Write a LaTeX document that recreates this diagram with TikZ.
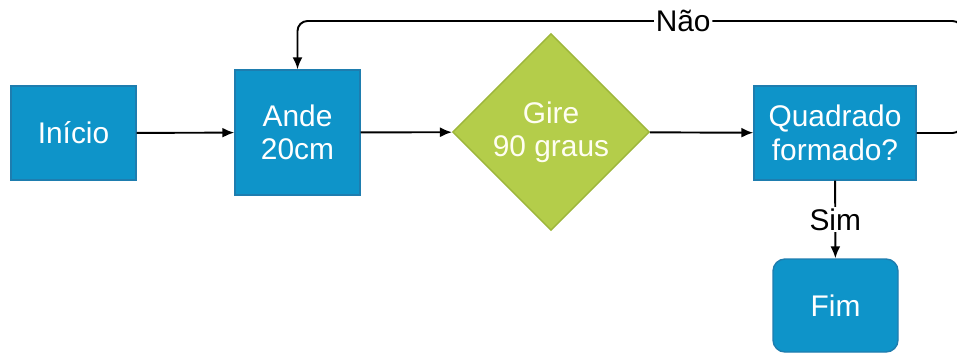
\documentclass[tikz,border=0pt]{standalone}
\usepackage{fontspec}
\setmainfont{Liberation Sans}
\usepackage{tikz}
\usetikzlibrary{positioning}
\usetikzlibrary{shapes.geometric}
\usetikzlibrary{arrows.meta}

\definecolor{boxblue}{RGB}{14,148,201}
\definecolor{boxblueline}{RGB}{30,125,175}
\definecolor{boxgreen}{RGB}{180,205,74}
\definecolor{boxgreenline}{RGB}{157,182,58}

\begin{document}
\begin{tikzpicture}
    [
    font=\fontsize{17}{19}\selectfont,
    box/.style={rectangle,draw=boxblueline,fill=boxblue,text=white,line width=0.8pt,
      align=center,inner sep=0pt,minimum width=2.5cm,minimum height=1.88cm},
    turn/.style={diamond,draw=boxgreenline,fill=boxgreen,text=white!95!yellow,line width=0.8pt,
      align=center,inner sep=0pt,minimum width=3.94cm,minimum height=3.94cm},
    flow/.style={line width=1.1pt,-{Latex[length=2.4mm,width=2mm]}},
    ]
    \useasboundingbox (0,0) rectangle (19.14,-7.06);
    \node (inicio) at (1.47,-2.66) [box] {Início};
    \node (ande) at (5.95,-2.65) [box,minimum height=2.5cm] {Ande\\20cm};
    \node (gire) at (11.02,-2.64) [turn] {Gire\\90 graus};
    \node (quad) at (16.70,-2.66) [box,minimum width=3.24cm] {Quadrado\\formado?};
    \node (fim) at (16.71,-6.11) [box,minimum height=1.86cm,rounded corners=0.24cm] {Fim};
    \draw [flow] (inicio) to (ande);
    \draw [flow] (ande) to (gire);
    \draw [flow] (gire) to (quad);
    \draw [flow] (quad) to node [fill=white,inner sep=1pt] {Sim} (fim);

    \coordinate (r1) at (19.25,-2.66);
    \coordinate (r2) at (19.25,-0.42);
    \coordinate (l2) at (ande.north |- r2);
    \draw [flow,rounded corners=0.2cm] (quad.east) -- (r1) -- (r2)
      -- node [pos=0.42,fill=white,inner sep=1pt] {Não} (l2) -- (ande.north);
  \end{tikzpicture}
\end{document}
